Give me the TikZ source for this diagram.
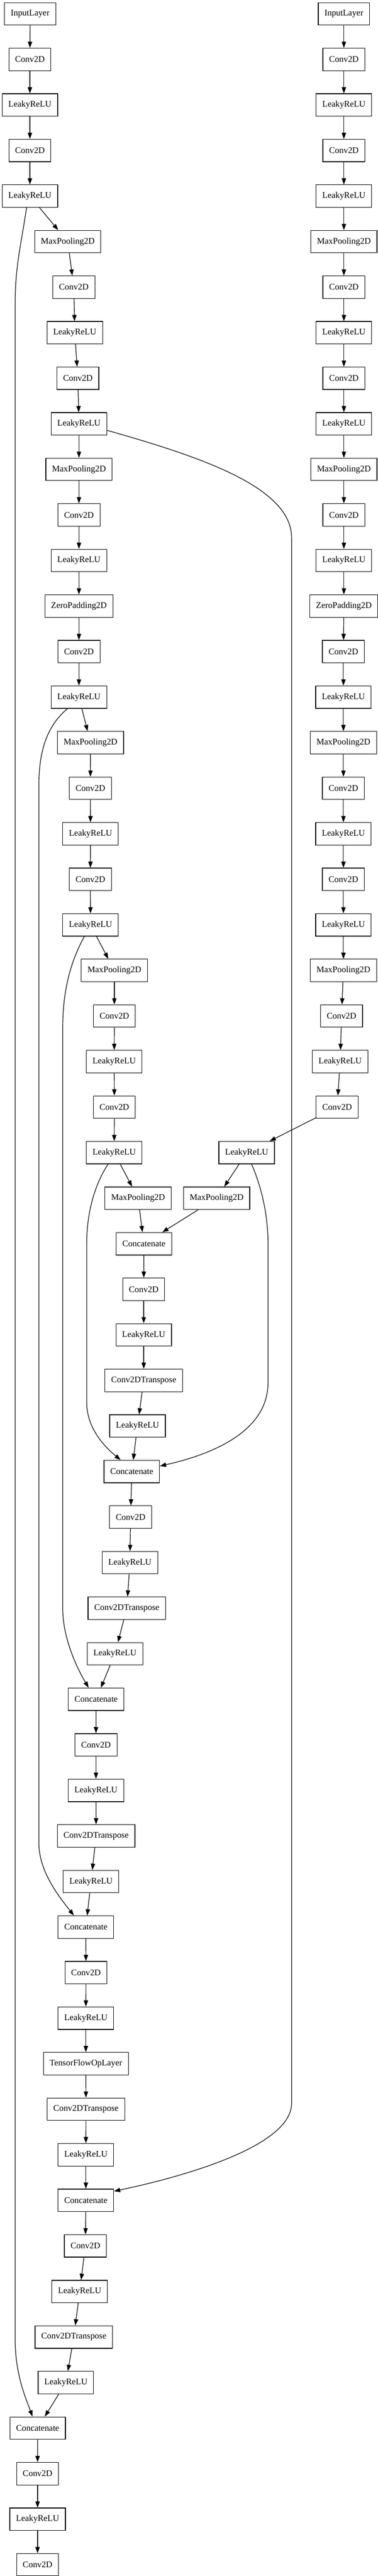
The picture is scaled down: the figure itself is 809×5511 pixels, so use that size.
\documentclass[tikz,border=0pt]{standalone}
\usepackage{fontspec}
\setmainfont{Liberation Serif}
\usetikzlibrary{arrows.meta}

\begin{document}
\begin{tikzpicture}[x=0.75pt, y=-0.75pt,
        layerbox/.style = {draw, rectangle, line width=1pt,
            minimum height=36pt, inner xsep=10pt, inner ysep=0pt,
            font=\fontsize{14}{16}\selectfont},
        link/.style = {line width=1pt, -{Triangle[length=10pt,width=7pt]}}]

        \useasboundingbox (0,0) rectangle (809,5511);

        % Encoder A
        \node[layerbox] (inA) at (64.5,29.7) {InputLayer};
        \node[layerbox] (cA1) at (64,127.15) {Conv2D};
        \node[layerbox] (lA1) at (64,224.6) {LeakyReLU};
        \node[layerbox] (cA2) at (64,322.05) {Conv2D};
        \node[layerbox] (lA2) at (64,419.5) {LeakyReLU};
        \node[layerbox] (pA1) at (145,516.95) {MaxPooling2D};
        \node[layerbox] (cA3) at (158,614.4) {Conv2D};
        \node[layerbox] (lA3) at (160,711.85) {LeakyReLU};
        \node[layerbox] (cA4) at (166.7,809.3) {Conv2D};
        \node[layerbox] (lA4) at (169,906.75) {LeakyReLU};
        \node[layerbox] (pA2) at (169,1004.2) {MaxPooling2D};
        \node[layerbox] (cA5) at (169,1101.65) {Conv2D};
        \node[layerbox] (lA5) at (169,1199.1) {LeakyReLU};
        \node[layerbox] (zA) at (169,1296.55) {ZeroPadding2D};
        \node[layerbox] (cA6) at (169,1394) {Conv2D};
        \node[layerbox] (lA6) at (169,1491.45) {LeakyReLU};
        \node[layerbox] (pA3) at (193.7,1588.9) {MaxPooling2D};
        \node[layerbox] (cA7) at (193.5,1686.35) {Conv2D};
        \node[layerbox] (lA7) at (193.7,1783.8) {LeakyReLU};
        \node[layerbox] (cA8) at (193.5,1881.25) {Conv2D};
        \node[layerbox] (lA8) at (193.7,1978.7) {LeakyReLU};
        \node[layerbox] (pA4) at (244.7,2076.15) {MaxPooling2D};
        \node[layerbox] (cA9) at (244.7,2173.6) {Conv2D};
        \node[layerbox] (lA9) at (244.4,2271.05) {LeakyReLU};
        \node[layerbox] (cA10) at (244.7,2368.5) {Conv2D};
        \node[layerbox] (lA10) at (244.4,2465.95) {LeakyReLU};
        \node[layerbox] (pA5) at (295.6,2563.4) {MaxPooling2D};

        % Encoder B
        \node[layerbox] (inB) at (736,29.7) {InputLayer};
        \node[layerbox] (cB1) at (736,127.15) {Conv2D};
        \node[layerbox] (lB1) at (736,224.6) {LeakyReLU};
        \node[layerbox] (cB2) at (736,322.05) {Conv2D};
        \node[layerbox] (lB2) at (736,419.5) {LeakyReLU};
        \node[layerbox] (pB1) at (736,516.95) {MaxPooling2D};
        \node[layerbox] (cB3) at (736,614.4) {Conv2D};
        \node[layerbox] (lB3) at (736,711.85) {LeakyReLU};
        \node[layerbox] (cB4) at (736,809.3) {Conv2D};
        \node[layerbox] (lB4) at (736,906.75) {LeakyReLU};
        \node[layerbox] (pB2) at (736,1004.2) {MaxPooling2D};
        \node[layerbox] (cB5) at (736,1101.65) {Conv2D};
        \node[layerbox] (lB5) at (736,1199.1) {LeakyReLU};
        \node[layerbox] (zB) at (736,1296.55) {ZeroPadding2D};
        \node[layerbox] (cB6) at (735,1394) {Conv2D};
        \node[layerbox] (lB6) at (735,1491.45) {LeakyReLU};
        \node[layerbox] (pB3) at (735,1588.9) {MaxPooling2D};
        \node[layerbox] (cB7) at (735,1686.35) {Conv2D};
        \node[layerbox] (lB7) at (735,1783.8) {LeakyReLU};
        \node[layerbox] (cB8) at (735,1881.25) {Conv2D};
        \node[layerbox] (lB8) at (735,1978.7) {LeakyReLU};
        \node[layerbox] (pB4) at (735,2076.15) {MaxPooling2D};
        \node[layerbox] (cB9) at (731,2173.6) {Conv2D};
        \node[layerbox] (lB9) at (728,2271.05) {LeakyReLU};
        \node[layerbox] (cB10) at (721.5,2368.5) {Conv2D};
        \node[layerbox] (lB10) at (528,2465.95) {LeakyReLU};
        \node[layerbox] (pB5) at (463.6,2563.4) {MaxPooling2D};

        % Decoder
        \node[layerbox] (cat1) at (308,2660.85) {Concatenate};
        \node[layerbox] (cD1) at (307.6,2758.3) {Conv2D};
        \node[layerbox] (lD1) at (307.6,2855.75) {LeakyReLU};
        \node[layerbox] (tD1) at (307.6,2953.2) {Conv2DTranspose};
        \node[layerbox] (lD2) at (294.3,3050.65) {LeakyReLU};
        \node[layerbox] (cat2) at (282,3148.1) {Concatenate};
        \node[layerbox] (cD2) at (279.5,3245.55) {Conv2D};
        \node[layerbox] (lD3) at (278,3343) {LeakyReLU};
        \node[layerbox] (tD2) at (271.4,3440.45) {Conv2DTranspose};
        \node[layerbox] (lD4) at (246,3537.9) {LeakyReLU};
        \node[layerbox] (cat3) at (205.7,3635.35) {Concatenate};
        \node[layerbox] (cD3) at (205.4,3732.8) {Conv2D};
        \node[layerbox] (lD5) at (205.4,3830.25) {LeakyReLU};
        \node[layerbox] (tD3) at (205.7,3927.7) {Conv2DTranspose};
        \node[layerbox] (lD6) at (194.8,4025.15) {LeakyReLU};
        \node[layerbox] (cat4) at (183.8,4122.6) {Concatenate};
        \node[layerbox] (cD4) at (184,4220.05) {Conv2D};
        \node[layerbox] (lD7) at (183.8,4317.5) {LeakyReLU};
        \node[layerbox] (tf) at (183.8,4414.95) {TensorFlowOpLayer};
        \node[layerbox] (tD4) at (184,4512.4) {Conv2DTranspose};
        \node[layerbox] (lD8) at (183.8,4609.85) {LeakyReLU};
        \node[layerbox] (cat5) at (183.8,4707.3) {Concatenate};
        \node[layerbox] (cD5) at (182.8,4804.75) {Conv2D};
        \node[layerbox] (lD9) at (170.5,4902.2) {LeakyReLU};
        \node[layerbox] (tD5) at (158,4999.65) {Conv2DTranspose};
        \node[layerbox] (lD10) at (141,5097.1) {LeakyReLU};
        \node[layerbox] (cat6) at (80.6,5194.55) {Concatenate};
        \node[layerbox] (cD6) at (80.4,5292) {Conv2D};
        \node[layerbox] (lD11) at (80.4,5389.45) {LeakyReLU};
        \node[layerbox] (cD7) at (80.4,5486.9) {Conv2D};

        % Arrows A
        \draw[link] (inA) -- (cA1);
        \draw[link] (cA1) -- (lA1);
        \draw[link] (lA1) -- (cA2);
        \draw[link] (cA2) -- (lA2);
        \draw[link] (lA2) -- (pA1);
        \draw[link] (pA1) -- (cA3);
        \draw[link] (cA3) -- (lA3);
        \draw[link] (lA3) -- (cA4);
        \draw[link] (cA4) -- (lA4);
        \draw[link] (lA4) -- (pA2);
        \draw[link] (pA2) -- (cA5);
        \draw[link] (cA5) -- (lA5);
        \draw[link] (lA5) -- (zA);
        \draw[link] (zA) -- (cA6);
        \draw[link] (cA6) -- (lA6);
        \draw[link] (lA6) -- (pA3);
        \draw[link] (pA3) -- (cA7);
        \draw[link] (cA7) -- (lA7);
        \draw[link] (lA7) -- (cA8);
        \draw[link] (cA8) -- (lA8);
        \draw[link] (lA8) -- (pA4);
        \draw[link] (pA4) -- (cA9);
        \draw[link] (cA9) -- (lA9);
        \draw[link] (lA9) -- (cA10);
        \draw[link] (cA10) -- (lA10);
        \draw[link] (lA10) -- (pA5);

        % Arrows B
        \draw[link] (inB) -- (cB1);
        \draw[link] (cB1) -- (lB1);
        \draw[link] (lB1) -- (cB2);
        \draw[link] (cB2) -- (lB2);
        \draw[link] (lB2) -- (pB1);
        \draw[link] (pB1) -- (cB3);
        \draw[link] (cB3) -- (lB3);
        \draw[link] (lB3) -- (cB4);
        \draw[link] (cB4) -- (lB4);
        \draw[link] (lB4) -- (pB2);
        \draw[link] (pB2) -- (cB5);
        \draw[link] (cB5) -- (lB5);
        \draw[link] (lB5) -- (zB);
        \draw[link] (zB) -- (cB6);
        \draw[link] (cB6) -- (lB6);
        \draw[link] (lB6) -- (pB3);
        \draw[link] (pB3) -- (cB7);
        \draw[link] (cB7) -- (lB7);
        \draw[link] (lB7) -- (cB8);
        \draw[link] (cB8) -- (lB8);
        \draw[link] (lB8) -- (pB4);
        \draw[link] (pB4) -- (cB9);
        \draw[link] (cB9) -- (lB9);
        \draw[link] (lB9) -- (cB10);
        \draw[link] (cB10) -- (lB10);
        \draw[link] (lB10) -- (pB5);

        % Arrows decoder
        \draw[link] (pA5) -- (cat1);
        \draw[link] (pB5) -- (cat1);
        \draw[link] (cat1) -- (cD1);
        \draw[link] (cD1) -- (lD1);
        \draw[link] (lD1) -- (tD1);
        \draw[link] (tD1) -- (lD2);
        \draw[link] (lD2) -- (cat2);
        \draw[link] (cat2) -- (cD2);
        \draw[link] (cD2) -- (lD3);
        \draw[link] (lD3) -- (tD2);
        \draw[link] (tD2) -- (lD4);
        \draw[link] (lD4) -- (cat3);
        \draw[link] (cat3) -- (cD3);
        \draw[link] (cD3) -- (lD5);
        \draw[link] (lD5) -- (tD3);
        \draw[link] (tD3) -- (lD6);
        \draw[link] (lD6) -- (cat4);
        \draw[link] (cat4) -- (cD4);
        \draw[link] (cD4) -- (lD7);
        \draw[link] (lD7) -- (tf);
        \draw[link] (tf) -- (tD4);
        \draw[link] (tD4) -- (lD8);
        \draw[link] (lD8) -- (cat5);
        \draw[link] (cat5) -- (cD5);
        \draw[link] (cD5) -- (lD9);
        \draw[link] (lD9) -- (tD5);
        \draw[link] (tD5) -- (lD10);
        \draw[link] (lD10) -- (cat6);
        \draw[link] (cat6) -- (cD6);
        \draw[link] (cD6) -- (lD11);
        \draw[link] (lD11) -- (cD7);

        % Skip connections
        \draw[link] (lA2.254) .. controls (44,530) and (32.5,570) .. (32.5,650)
            -- (32.5,5005) .. controls (32.5,5080) and (55,5130) .. (cat6.114);
        \draw[link] (lA4.347) .. controls (420,975) and (624,1040) .. (624,1150)
            -- (624,4500) .. controls (624,4590) and (400,4655) .. (cat5.18);
        \draw[link] (lA6.225) .. controls (110,1545) and (83.2,1590) .. (83.2,1680)
            -- (83.2,3942) .. controls (83.2,4000) and (120,4050) .. (cat4.136);
        \draw[link] (lA8.242) .. controls (155,2050) and (134.2,2110) .. (134.2,2200)
            -- (134.2,3440) .. controls (134.2,3500) and (160,3560) .. (cat3.123);
        \draw[link] (lA10.242) .. controls (205,2530) and (185.6,2590) .. (185.6,2660)
            -- (185.6,3000) .. controls (185.6,3060) and (230,3100) .. (cat2.134);
        \draw[link] (lB10.293) .. controls (560,2540) and (573.6,2600) .. (573.6,2660)
            -- (573.6,2958) .. controls (573.6,3060) and (460,3110) .. (cat2.11);
    \end{tikzpicture}
\end{document}
